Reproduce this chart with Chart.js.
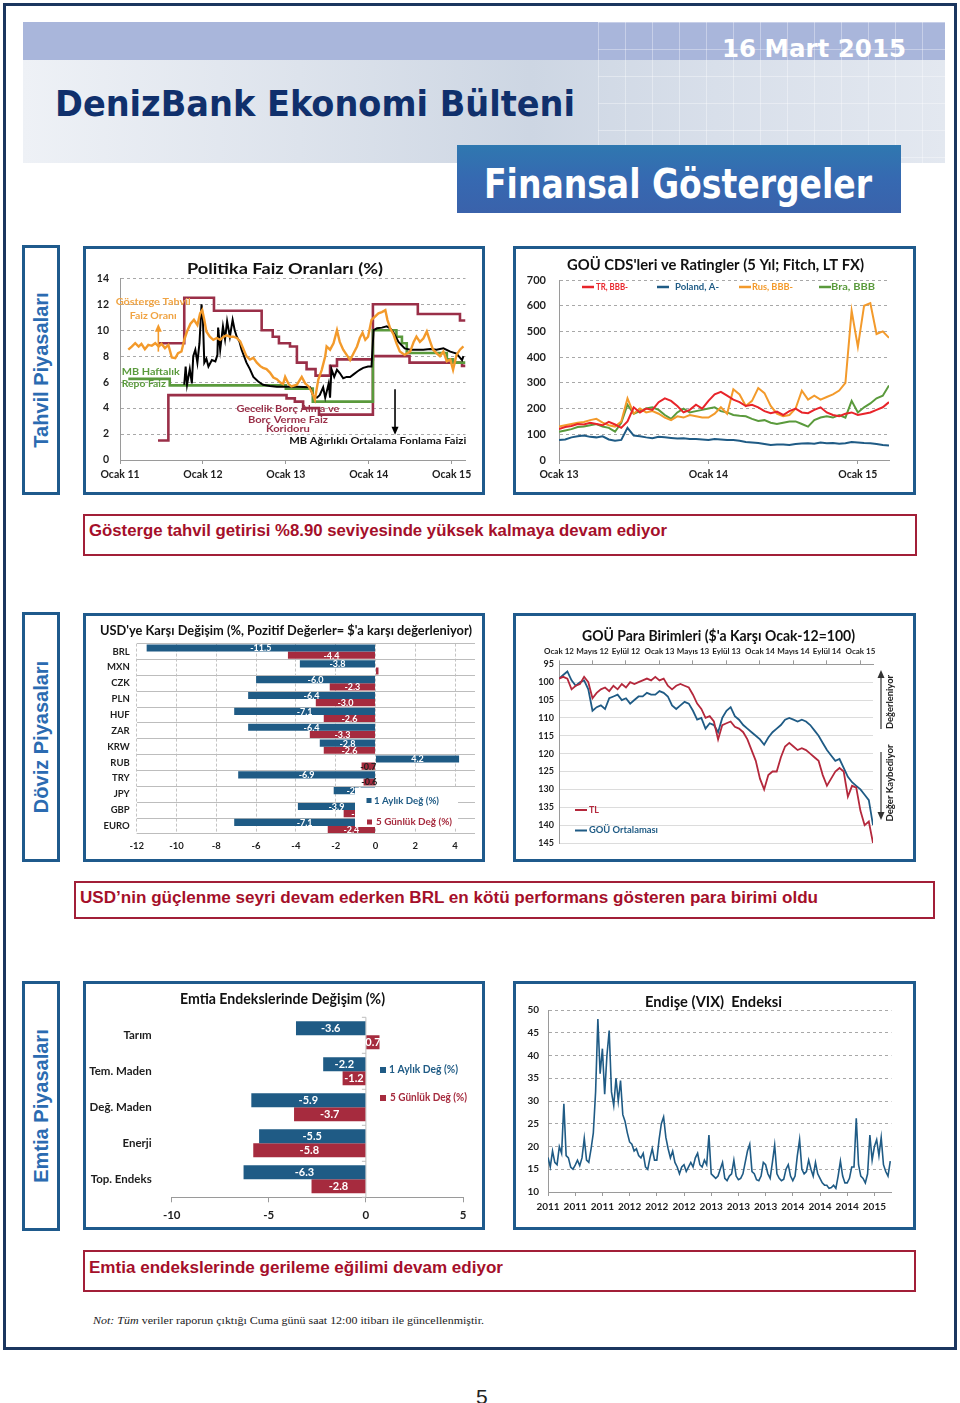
<!DOCTYPE html>
<html lang="tr">
<head>
<meta charset="utf-8">
<title>DenizBank Ekonomi Bülteni – Finansal Göstergeler</title>
<script src="https://cdn.jsdelivr.net/npm/chart.js@4.4.1/dist/chart.umd.min.js"></script>
<style>
  html, body { margin: 0; padding: 0; background: #fff; }
  body { position: relative; width: 960px; height: 1403px; overflow: hidden; font-family: "Liberation Sans", Arial, sans-serif; }
  .abs { position: absolute; }
  .frame { left: 3px; top: 3px; width: 948px; height: 1341px; border: 3px solid #1b365f; }
  .banner { left: 23px; top: 22px; width: 922px; height: 141px; overflow: hidden;
    background: linear-gradient(to bottom, #a9b6db 0, #a9b6db 38px, rgba(0,0,0,0) 38px),
                linear-gradient(to right, #eef1f6 0%, #dde3ec 30%, #cdd6e3 55%, #d8dfea 75%, #e3e8f0 100%); }
  .banner .grid { position: absolute; left: 575px; top: 0; width: 347px; height: 141px;
    background-image: linear-gradient(to right, rgba(255,255,255,.35) 1px, transparent 1px),
                      linear-gradient(to bottom, rgba(255,255,255,.35) 1px, transparent 1px);
    background-size: 27px 27px; }
  .fit { position: absolute; white-space: nowrap; transform-origin: 0 0; line-height: 1; }
  .date { left: 722px; top: 34px; font: bold 25px "DejaVu Sans", sans-serif; color: #fff; }
  .brand { left: 55px; top: 83px; font: bold 36px "DejaVu Sans", sans-serif; color: #10306c; }
  .ribbon { left: 457px; top: 145px; width: 444px; height: 68px;
    background: linear-gradient(to bottom, #2f78b0 0%, #3669b1 50%, #3a62ab 100%); }
  .ribbon-text { left: 484px; top: 161px; font: bold 40px "DejaVu Sans", sans-serif; color: #fff; }
  .side { position: absolute; left: 22px; width: 32px; height: 244px; border: 3px solid #1f5a8c; }
  .side span { position: absolute; left: 50%; top: 50%; transform: translate(-50%, -50%) rotate(-90deg);
    white-space: nowrap; font: bold 20px "Liberation Sans", Arial, sans-serif; color: #2b6bb1; }
  .box { position: absolute; border: 3px solid #1f5a8c; background: #fff; }
  .box canvas { display: block; }
  .cap { position: absolute; border: 2px solid #a21f38; box-sizing: border-box; }
  .cap-text { font: bold 16px "Liberation Sans", Arial, sans-serif; color: #a50f2a; }
  .foot { left: 93px; top: 1314px; font: 11px "Liberation Serif", "Times New Roman", serif; color: #222; }
  .page { left: 476px; top: 1385px; font: 21px "Liberation Sans", Arial, sans-serif; color: #222; }
</style>
</head>
<body>
<div class="abs frame"></div>
<div class="abs banner"><div class="grid"></div></div>
<div class="fit date" data-w="184">16 Mart 2015</div>
<div class="fit brand" data-w="520">DenizBank Ekonomi Bülteni</div>
<div class="abs ribbon"></div>
<div class="fit ribbon-text" data-w="388">Finansal Göstergeler</div>

<div class="side" style="top:245px"><span>Tahvil Piyasaları</span></div>
<div class="box" style="left:83px;top:246px"><canvas id="policyChart" width="396" height="243"></canvas></div>
<div class="box" style="left:513px;top:246px"><canvas id="cdsChart" width="397" height="243"></canvas></div>
<div class="cap" style="left:83px;top:514px;width:834px;height:42px"></div>
<div class="fit cap-text" style="left:89px;top:522px" data-w="578">Gösterge tahvil getirisi %8.90 seviyesinde yüksek kalmaya devam ediyor</div>

<div class="side" style="top:612px"><span>Döviz Piyasaları</span></div>
<div class="box" style="left:83px;top:613px"><canvas id="fxChart" width="396" height="243"></canvas></div>
<div class="box" style="left:513px;top:613px"><canvas id="emChart" width="397" height="243"></canvas></div>
<div class="cap" style="left:74px;top:881px;width:861px;height:38px"></div>
<div class="fit cap-text" style="left:80px;top:889px" data-w="738">USD’nin güçlenme seyri devam ederken BRL en kötü performans gösteren para birimi oldu</div>

<div class="side" style="top:981px"><span>Emtia Piyasaları</span></div>
<div class="box" style="left:83px;top:981px"><canvas id="commChart" width="396" height="243"></canvas></div>
<div class="box" style="left:513px;top:981px"><canvas id="vixChart" width="397" height="243"></canvas></div>
<div class="cap" style="left:83px;top:1250px;width:833px;height:42px"></div>
<div class="fit cap-text" style="left:89px;top:1259px" data-w="414">Emtia endekslerinde gerileme eğilimi devam ediyor</div>

<div class="fit foot" data-w="391"><i>Not: Tüm</i> veriler raporun çıktığı Cuma günü saat 12:00 itibarı ile güncellenmiştir.</div>
<div class="fit page">5</div>

<script>
// ---------- Politika faiz oranları (ay: 0 = Ocak 2011) ----------
const rateTicks = ['Ocak 11', 'Ocak 12', 'Ocak 13', 'Ocak 14', 'Ocak 15'];
const corridorUpper = [[5.5, 9], [9.3, 12.5], [13.6, 11.5], [20.5, 10], [22.1, 9.5], [23.0, 9], [24.6, 8.75],
  [25.6, 7.5], [27.0, 7], [28.3, 6.5], [30.4, 7.25], [31.4, 7.75], [36.6, 12], [43.1, 11.25], [49.2, 10.75], [50, 10.75]];
const corridorLower = [[5.5, 1.5], [7.0, 5], [24.1, 4.75], [25.3, 4.5], [26.5, 4], [28.8, 3.5], [36.6, 8],
  [41.9, 7.5], [49.5, 7.25], [50, 7.25]];
const repoRate = [[1.2, 6.25], [7.2, 5.75], [24.0, 5.5], [27.9, 4.5], [36.6, 10], [40.0, 9.5], [40.8, 9.0],
  [41.5, 8.25], [47.3, 7.75], [48.2, 7.5], [50, 7.5]];
const fundingRate = [[9.3, 5.8], [9.5, 7.2], [9.7, 5.8], [10.1, 7.0], [10.4, 5.9], [10.6, 8.0], [10.9, 8.5],
  [11.2, 7.5], [11.5, 9.0], [11.8, 12.0], [12.0, 10.8], [12.2, 7.5], [12.5, 7.8], [12.8, 7.2], [13.3, 7.7],
  [13.8, 7.6], [14.1, 8.1], [14.2, 10.2], [14.5, 8.5], [14.9, 10.3], [15.2, 9.3], [15.5, 10.7], [15.9, 9.5],
  [16.3, 10.8], [16.6, 10.0], [16.9, 9.5], [17.3, 9.1], [17.6, 8.5], [18.3, 7.5], [18.8, 7.0], [19.3, 6.4],
  [20.0, 6.05], [20.7, 5.8], [21.7, 5.7], [22.7, 5.65], [24.1, 5.65], [24.6, 5.67], [27.5, 5.6], [28.0, 4.9],
  [28.5, 4.8], [28.9, 5.0], [29.4, 5.6], [29.7, 4.8], [30.2, 5.9], [30.4, 4.8], [30.6, 7.0], [31.0, 6.4],
  [31.4, 6.95], [31.8, 6.7], [32.3, 6.3], [32.8, 6.4], [33.3, 6.4], [33.8, 6.6], [34.3, 6.8], [34.7, 6.95],
  [35.2, 7.1], [35.9, 7.2], [36.4, 7.2], [36.7, 10.0], [37.2, 10.15], [37.9, 10.2], [38.6, 10.3], [39.1, 10.15],
  [39.6, 9.8], [40.3, 9.1], [41.2, 8.6], [42.0, 8.5], [42.9, 8.5], [43.9, 8.5], [44.9, 8.55], [45.8, 8.5],
  [46.8, 8.6], [47.8, 8.35], [48.7, 8.2], [49.5, 7.7], [49.7, 8.0]];
const bondYield = [[1.2, 8.5], [1.7, 8.74], [2.2, 9.0], [2.7, 8.74], [3.1, 8.95], [3.6, 8.54], [4.1, 8.87],
  [4.6, 8.8], [5.1, 9.0], [5.6, 8.74], [6.0, 8.95], [6.5, 8.62], [7.0, 8.87], [7.5, 7.9], [8.0, 7.85], [8.4, 8.23],
  [8.9, 8.36], [9.3, 9.26], [9.7, 9.9], [10.2, 10.5], [10.7, 10.8], [11.2, 10.4], [11.6, 11.3], [11.9, 11.55],
  [12.2, 10.8], [12.5, 9.9], [13.0, 9.5], [13.5, 9.26], [14.0, 9.4], [14.5, 9.26], [15.0, 9.5], [15.4, 9.6],
  [15.9, 9.5], [16.4, 9.5], [16.9, 9.4], [17.4, 9.13], [17.9, 8.5], [18.3, 8.0], [18.8, 7.74], [19.3, 7.87],
  [19.8, 7.5], [20.3, 7.23], [20.7, 7.1], [21.2, 7.0], [21.7, 6.74], [22.2, 6.36], [22.7, 6.23], [23.2, 5.97],
  [23.6, 5.85], [23.9, 6.4], [24.4, 5.85], [24.8, 5.67], [25.6, 5.8], [26.3, 6.4], [26.8, 5.9], [27.3, 5.67],
  [27.7, 5.3], [28.2, 4.65], [28.7, 6.2], [29.2, 6.95], [29.7, 8.0], [29.9, 8.75], [30.4, 8.5], [30.9, 9.0],
  [31.4, 10.0], [31.8, 9.1], [32.3, 8.5], [32.8, 8.1], [33.3, 7.7], [33.8, 8.23], [34.3, 8.75], [34.7, 9.4],
  [35.1, 9.8], [35.5, 9.26], [35.9, 9.5], [36.4, 10.8], [36.9, 11.05], [37.4, 11.3], [37.9, 11.4], [38.4, 11.55],
  [38.7, 10.8], [39.1, 10.15], [39.6, 9.65], [40.0, 9.0], [40.5, 8.36], [41.2, 8.1], [42.0, 8.36], [42.5, 9.1],
  [42.9, 9.5], [43.4, 9.1], [43.9, 9.36], [44.4, 9.9], [44.9, 9.1], [45.3, 8.5], [45.8, 8.23], [46.3, 8.0],
  [46.8, 8.36], [47.3, 7.6], [47.8, 7.74], [48.2, 6.95], [48.7, 8.1], [49.2, 8.5], [49.7, 8.75]];

// ---------- CDS (yarım ay aralıkla, 0 = Ocak 2013) ----------
const cdsTicks = ['Ocak 13', 'Ocak 14', 'Ocak 15'];
const cdsNames = ['TR, BBB-', 'Poland, A-', 'Rus, BBB-', 'Bra, BBB'];
const cdsTR = [120, 128, 132, 140, 138, 145, 140, 135, 148, 138, 125, 150, 205, 185, 200, 195, 225, 240, 230, 210,
  185, 195, 215, 200, 230, 255, 265, 250, 235, 225, 210, 215, 205, 190, 182, 188, 175, 190, 200, 185,
  182, 195, 205, 185, 175, 170, 180, 185, 175, 180, 185, 195, 205, 225];
const cdsPoland = [78, 80, 88, 92, 95, 90, 88, 92, 80, 75, 78, 125, 95, 92, 88, 85, 90, 88, 86, 84,
  85, 82, 82, 80, 78, 82, 80, 78, 78, 75, 70, 68, 66, 62, 58, 60, 60, 58, 62, 64,
  65, 63, 68, 65, 66, 63, 65, 70, 68, 66, 65, 62, 58, 56];
const cdsRussia = [130, 135, 140, 145, 148, 155, 160, 145, 135, 130, 150, 240, 180, 200, 185, 190, 180, 165, 155, 170,
  165, 175, 170, 165, 165, 180, 205, 180, 275, 255, 210, 230, 280, 260, 210, 180, 170, 175, 200, 270,
  235, 250, 235, 245, 255, 270, 300, 580, 440, 600, 610, 490, 500, 475];
const cdsBrazil = [110, 115, 120, 128, 130, 135, 140, 130, 125, 110, 145, 215, 180, 190, 200, 205, 195, 175, 160, 185,
  200, 185, 190, 195, 200, 205, 190, 185, 175, 172, 170, 160, 152, 155, 145, 140, 145, 150, 150, 140,
  130, 155, 165, 170, 165, 175, 165, 230, 185, 205, 220, 240, 250, 290];

// ---------- USD'ye karşı değişim ----------
const fxCurrencies = ['BRL', 'MXN', 'CZK', 'PLN', 'HUF', 'ZAR', 'KRW', 'RUB', 'TRY', 'JPY', 'GBP', 'EURO'];
const fxMonthly = [-11.5, -3.8, -6.0, -6.4, -7.1, -6.4, -2.8, 4.2, -6.9, -2.1, -3.9, -7.1];
const fxWeekly = [-4.4, 0.15, -2.3, -3.0, -2.6, -3.3, -2.6, -0.7, -0.6, -0.5, -1.6, -2.4];
const fxTicks = [-12, -10, -8, -6, -4, -2, 0, 2, 4];
const seriesNames = ['1 Aylık Değ (%)', '5 Günlük Değ (%)'];

// ---------- GOÜ para birimleri (yarım ay aralıkla, 0 = Ocak 2012) ----------
const emTicks = ['Ocak 12', 'Mayıs 12', 'Eylül 12', 'Ocak 13', 'Mayıs 13', 'Eylül 13', 'Ocak 14', 'Mayıs 14', 'Eylül 14', 'Ocak 15'];
const tlIndex = [99, 98.5, 99, 102, 101, 100.5, 98.5, 100, 104.5, 103, 102, 101.5, 102.5, 101, 102, 100.5,
  101.5, 100, 100.5, 100, 99.5, 99, 99.5, 98.5, 99.5, 99, 101, 102, 101, 100.5, 101, 101.5,
  103.5, 106, 107.5, 110, 109.5, 111, 116, 112, 111.5, 111, 112.5, 113, 114, 116, 119, 122,
  127, 130, 126, 125, 125, 121, 118, 117, 118, 119, 118.5, 119, 120, 121, 122, 126,
  129, 127, 125, 124, 125, 132, 129, 129.5, 136, 140, 139, 145];
const emAverage = [99, 98, 97, 99.5, 101, 100, 99.5, 102, 108, 107, 106.5, 107.5, 104.5, 104, 103.5, 105,
  104.5, 106, 105, 104, 104, 103, 103.5, 103.5, 102.5, 103, 104, 106.5, 107.5, 106.5, 105.5, 106,
  108, 110.5, 110, 113, 111.5, 112, 114, 110, 108, 107, 109.5, 110.5, 112, 113, 114, 115,
  116, 117.5, 115.5, 114, 113, 112, 110.5, 110, 110.5, 111, 110.5, 111, 112, 113.5, 115, 117,
  119, 120.5, 122, 121.5, 124, 126.5, 128, 129, 130, 131.5, 133, 140];

// ---------- Emtia endeksleri ----------
const commodities = ['Tarım', 'Tem. Maden', 'Değ. Maden', 'Enerji', 'Top. Endeks'];
const commMonthly = [-3.6, -2.2, -5.9, -5.5, -6.3];
const commWeekly = [0.7, -1.2, -3.7, -5.8, -2.8];
const commTicks = [-10, -5, 0, 5];

// ---------- VIX (ayda üç okuma, 0 = Ocak 2011) ----------
const vixTicks = ['2011', '2011', '2011', '2012', '2012', '2012', '2013', '2013', '2013', '2014', '2014', '2014', '2015'];
const vixValues = [
  17.6, 15.5, 19.0, 16.5, 16.0, 20.0, 18.5, 29.4, 18.0, 17.5, 15.5, 15.0,
  15.9, 17.0, 15.8, 17.5, 21.8, 17.0, 16.5, 19.5, 23.0, 32.0, 48.0, 36.0,
  41.5, 31.5, 40.0, 45.5, 32.0, 29.0, 35.0, 30.0, 34.5, 27.0, 25.5, 23.0,
  21.0, 20.5, 19.0, 19.5, 18.0, 17.5, 18.5, 15.5, 15.0, 17.5, 19.5, 17.0,
  17.0, 21.5, 25.0, 26.5, 22.0, 19.5, 17.5, 19.0, 16.5, 15.5, 14.0, 15.5,
  16.0, 14.5, 15.5, 16.5, 15.5, 17.5, 18.5, 16.0, 15.5, 17.0, 16.0, 22.5,
  14.0, 13.5, 13.0, 13.5, 15.0, 16.5, 13.0, 12.5, 13.5, 14.0, 17.0, 13.5,
  12.7, 13.0, 14.0, 16.5, 19.0, 20.5, 14.5, 14.0, 12.7, 12.5, 13.5, 16.5,
  16.0, 14.0, 13.0, 16.5, 20.3, 14.0, 13.0, 12.5, 12.8, 15.0, 16.0, 13.5,
  12.5, 13.5, 18.0, 21.5, 15.0, 14.0, 14.5, 17.0, 15.0, 13.5, 16.5, 14.0,
  13.0, 12.0, 11.5, 11.5, 10.8, 11.0, 11.5, 10.8, 13.5, 16.8, 13.5, 12.0,
  12.0, 13.0, 15.5, 15.5, 26.2, 16.0, 13.5, 13.0, 12.0, 14.0, 22.5, 17.0,
  20.0, 21.5, 18.0, 22.0, 16.0, 14.5, 13.5, 16.8];

// ---------- ortak ayarlar ----------
Chart.defaults.font.family = 'Lato, "Open Sans", sans-serif';
Chart.defaults.font.weight = 'bold';
Chart.defaults.color = '#1e1e1e';
Chart.defaults.animation = false;
Chart.defaults.plugins.legend.display = false;
Chart.defaults.plugins.tooltip.enabled = false;
Chart.defaults.elements.point.radius = 0;
Chart.defaults.elements.line.tension = 0;

const BLUE = '#1f5b85';
const RED = '#a62b3e';

const monthPairs = a => a.map(p => ({ x: p[0], y: p[1] }));
const halfMonths = a => a.map((v, i) => ({ x: i / 2, y: v }));
const thirdMonths = a => a.map((v, i) => ({ x: i / 3, y: v }));

// text squeezed/stretched to a measured width, height kept by font size
function fitText(ctx, text, x, y, width, size, color, align) {
  ctx.save();
  ctx.font = 'bold ' + size + 'px Lato';
  const k = width / ctx.measureText(text).width;
  ctx.translate(x, y);
  ctx.scale(k, 1);
  ctx.fillStyle = color;
  ctx.textAlign = align || 'center';
  ctx.textBaseline = 'middle';
  ctx.fillText(text, 0, 0);
  ctx.restore();
}

function vArrow(ctx, x, yFrom, yTo, color, w) {
  const dir = yTo < yFrom ? -1 : 1;
  ctx.save();
  ctx.strokeStyle = color; ctx.fillStyle = color; ctx.lineWidth = w;
  ctx.beginPath(); ctx.moveTo(x, yFrom); ctx.lineTo(x, yTo - dir * 5); ctx.stroke();
  ctx.beginPath(); ctx.moveTo(x, yTo); ctx.lineTo(x - 3.5, yTo - dir * 8); ctx.lineTo(x + 3.5, yTo - dir * 8);
  ctx.closePath(); ctx.fill();
  ctx.restore();
}

function titlePlugin(text, cx, cy, width, size) {
  return { id: 'fixedTitle', afterDraw(chart) { fitText(chart.ctx, text, cx, cy, width, size, '#111'); } };
}

function yearAxis(labels, step, max, height, pos) {
  return {
    type: 'linear', min: 0, max: max, position: pos || 'bottom',
    afterBuildTicks: s => { s.ticks = labels.map((t, i) => ({ value: i * step })); },
    afterFit: s => { s.height = height; },
    ticks: { autoSkip: false, maxRotation: 0, padding: 4, font: { size: 10.5 }, callback: v => labels[Math.round(v / step)] },
    grid: { drawOnChartArea: false, tickLength: 4, color: '#9a9a9a' },
    border: { color: '#9a9a9a' }
  };
}

// ---------- 1: Politika Faiz Oranları ----------
const rateNotes = {
  id: 'rateNotes',
  afterDatasetsDraw(chart) {
    const { ctx, scales: { x, y } } = chart;
    const put = (t, m, v, w, c, a) => fitText(ctx, t, x.getPixelForValue(m), y.getPixelForValue(v), w, 9.5, c, a);
    put('Gösterge Tahvil', 4.8, 12.15, 75, '#f0a444');
    put('Faiz Oranı', 4.8, 11.1, 47, '#f0a444');
    put('MB Haftalık', 0.25, 6.8, 58, '#5a9a3c', 'left');
    put('Repo Faiz', 0.25, 5.85, 44, '#5a9a3c', 'left');
    put('Gecelik Borç Alma ve', 24.3, 3.92, 103, '#9a2f48');
    put('Borç Verme Faiz', 24.3, 3.08, 80, '#9a2f48');
    put('Koridoru', 24.3, 2.38, 44, '#9a2f48');
    put('MB Ağırlıklı Ortalama Fonlama Faizi', 37.3, 1.46, 177, '#111');
    vArrow(ctx, x.getPixelForValue(5.55), y.getPixelForValue(8.35), y.getPixelForValue(10.5), '#f39a2b', 1.6);
    vArrow(ctx, x.getPixelForValue(39.8), y.getPixelForValue(5.45), y.getPixelForValue(1.95), '#000', 1.6);
  }
};

new Chart(document.getElementById('policyChart'), {
  type: 'line',
  data: {
    datasets: [
      { data: monthPairs(bondYield), borderColor: '#f39a2b', borderWidth: 2.4 },
      { data: monthPairs(fundingRate), borderColor: '#000', borderWidth: 2 },
      { data: monthPairs(repoRate), borderColor: '#5a9a3c', borderWidth: 2.6, stepped: true },
      { data: monthPairs(corridorUpper), borderColor: '#9a2f48', borderWidth: 2.6, stepped: true },
      { data: monthPairs(corridorLower), borderColor: '#9a2f48', borderWidth: 2.6, stepped: true }
    ]
  },
  options: {
    responsive: false,
    layout: { padding: { top: 29.3, right: 16.5, bottom: 0, left: 0 } },
    scales: {
      x: yearAxis(rateTicks, 12, 50, 32),
      y: {
        min: 0, max: 14,
        afterFit: s => { s.width = 34; },
        ticks: { stepSize: 2, padding: 11, font: { size: 10.5 } },
        grid: { color: '#a8a8a8', drawTicks: false },
        border: { color: '#9a9a9a', dash: [3, 3] }
      }
    }
  },
  plugins: [titlePlugin('Politika Faiz Oranları (%)', 199, 20, 196, 15.5), rateNotes]
});

// ---------- 2: GOÜ CDS ----------
const cdsColors = ['#e8242a', BLUE, '#f39a2b', '#5a9a3c'];
const cdsLegend = {
  id: 'cdsLegend',
  afterDraw(chart) {
    const ctx = chart.ctx;
    const lines = [66, 141, 223, 303];
    const texts = [[80, 32], [159, 44], [236, 41], [315, 44]];
    cdsNames.forEach((name, i) => {
      ctx.save();
      ctx.strokeStyle = cdsColors[i]; ctx.lineWidth = 2.5;
      ctx.beginPath(); ctx.moveTo(lines[i], 38); ctx.lineTo(lines[i] + 12, 38); ctx.stroke();
      ctx.restore();
      fitText(ctx, name, texts[i][0], 38, texts[i][1], 8.5, cdsColors[i], 'left');
    });
  }
};

new Chart(document.getElementById('cdsChart'), {
  type: 'line',
  data: {
    datasets: [
      { data: halfMonths(cdsTR), borderColor: '#e8242a', borderWidth: 2 },
      { data: halfMonths(cdsRussia), borderColor: '#f39a2b', borderWidth: 2 },
      { data: halfMonths(cdsBrazil), borderColor: '#5a9a3c', borderWidth: 2 },
      { data: halfMonths(cdsPoland), borderColor: BLUE, borderWidth: 2 }
    ]
  },
  options: {
    responsive: false,
    layout: { padding: { top: 31, right: 24, bottom: 0, left: 0 } },
    scales: {
      x: yearAxis(cdsTicks, 12, 26.5, 32),
      y: {
        min: 0, max: 700,
        afterFit: s => { s.width = 43; },
        ticks: { stepSize: 100, padding: 13, font: { size: 11 } },
        grid: { color: '#a8a8a8', drawTicks: false },
        border: { color: '#9a9a9a', dash: [3, 3] }
      }
    }
  },
  plugins: [titlePlugin("GOÜ CDS'leri ve Ratingler (5 Yıl; Fitch, LT FX)", 199.5, 16, 297, 15), cdsLegend]
});

// ---------- bar etiketleri ----------
function barLabels(size, smallDark) {
  return {
    id: 'barLabels',
    afterDatasetsDraw(chart) {
      const ctx = chart.ctx;
      chart.data.datasets.forEach((ds, di) => {
        chart.getDatasetMeta(di).data.forEach((bar, i) => {
          const v = ds.data[i];
          if (Math.abs(v) < 0.3) return;
          const dark = smallDark && Math.abs(v) < 1;
          ctx.save();
          ctx.font = 'bold ' + size + 'px Lato';
          ctx.fillStyle = dark ? '#222' : '#fff';
          ctx.textAlign = 'center'; ctx.textBaseline = 'middle';
          ctx.fillText(v.toFixed(1), (bar.x + bar.base) / 2, bar.y + 0.5);
          ctx.restore();
        });
      });
    }
  };
}

// ---------- 3: USD'ye karşı değişim ----------
const fxLegend = {
  id: 'fxLegend',
  afterDraw(chart) {
    const ctx = chart.ctx;
    ctx.fillStyle = '#fff';
    ctx.fillRect(269, 171.5, 103, 39.5);
    ctx.fillStyle = BLUE; ctx.fillRect(280.5, 182, 5, 5);
    fitText(ctx, seriesNames[0], 288, 185, 65, 9, BLUE, 'left');
    ctx.fillStyle = RED; ctx.fillRect(281, 203.5, 5, 5);
    fitText(ctx, seriesNames[1], 290, 206, 76, 9, RED, 'left');
  }
};

new Chart(document.getElementById('fxChart'), {
  type: 'bar',
  data: {
    labels: fxCurrencies,
    datasets: [
      { data: fxMonthly, backgroundColor: BLUE, categoryPercentage: 0.9, barPercentage: 1 },
      { data: fxWeekly, backgroundColor: RED, categoryPercentage: 0.9, barPercentage: 1 }
    ]
  },
  options: {
    indexAxis: 'y',
    responsive: false,
    layout: { padding: { top: 27.6, right: 7, bottom: 0, left: 0 } },
    scales: {
      x: {
        min: -12, max: 5,
        afterBuildTicks: s => { s.ticks = fxTicks.map(v => ({ value: v })); },
        afterFit: s => { s.height = 25.1; },
        ticks: { autoSkip: false, padding: 6, font: { size: 9.5 } },
        grid: { color: '#c4c4c4', drawTicks: false },
        border: { display: false, dash: [3, 2] }
      },
      y: {
        afterFit: s => { s.width = 50.7; },
        ticks: { padding: 7, font: { size: 9.5 } },
        grid: { color: '#bdbdbd', drawTicks: false },
        border: { display: false }
      }
    }
  },
  plugins: [titlePlugin("USD'ye Karşı Değişim (%, Pozitif Değerler= $'a karşı değerleniyor)", 200, 14.5, 372, 13.5), barLabels(9, true), fxLegend]
});

// ---------- 4: GOÜ para birimleri ----------
const emNotes = {
  id: 'emNotes',
  afterDraw(chart) {
    const ctx = chart.ctx;
    ctx.save();
    ctx.lineWidth = 2;
    ctx.strokeStyle = '#b4283c'; ctx.beginPath(); ctx.moveTo(59, 194); ctx.lineTo(71, 194); ctx.stroke();
    ctx.strokeStyle = BLUE; ctx.beginPath(); ctx.moveTo(59, 214.5); ctx.lineTo(71, 214.5); ctx.stroke();
    ctx.restore();
    fitText(ctx, 'TL', 73, 194, 10, 9, '#b4283c', 'left');
    fitText(ctx, 'GOÜ Ortalaması', 73, 214.5, 69, 9, BLUE, 'left');
    vArrow(ctx, 365, 113, 54, '#333', 1.2);
    vArrow(ctx, 365, 136, 204, '#333', 1.2);
    ctx.save(); ctx.translate(374, 86); ctx.rotate(-Math.PI / 2);
    fitText(ctx, 'Değerleniyor', 0, 0, 54, 9, '#222');
    ctx.restore();
    ctx.save(); ctx.translate(374, 167); ctx.rotate(-Math.PI / 2);
    fitText(ctx, 'Değer Kaybediyor', 0, 0, 77, 9, '#222');
    ctx.restore();
  }
};

const emX = yearAxis(emTicks, 4, 37.5, 20, 'top');
emX.ticks.font = { size: 8 };
emX.ticks.padding = 4;
new Chart(document.getElementById('emChart'), {
  type: 'line',
  data: {
    datasets: [
      { data: halfMonths(tlIndex), borderColor: '#b4283c', borderWidth: 1.8 },
      { data: halfMonths(emAverage), borderColor: BLUE, borderWidth: 1.8 }
    ]
  },
  options: {
    responsive: false,
    layout: { padding: { top: 28.3, right: 40, bottom: 16, left: 0 } },
    scales: {
      x: emX,
      y: {
        min: 95, max: 145, reverse: true,
        afterFit: s => { s.width = 43; },
        ticks: { stepSize: 5, padding: 5, font: { size: 9 } },
        grid: { color: '#dcdcdc', drawTicks: false },
        border: { color: '#9a9a9a' }
      }
    }
  },
  plugins: [titlePlugin("GOÜ Para Birimleri ($'a Karşı Ocak-12=100)", 202.5, 20, 273, 15.5), emNotes]
});

// ---------- 5: Emtia endeksleri ----------
const commExtras = {
  id: 'commExtras',
  beforeDatasetsDraw(chart) {
    const { ctx, chartArea: a, scales: { x } } = chart;
    const x0 = x.getPixelForValue(0);
    ctx.save();
    ctx.strokeStyle = '#bdbdbd'; ctx.lineWidth = 1;
    ctx.beginPath(); ctx.moveTo(x0, a.top); ctx.lineTo(x0, a.bottom);
    const n = commodities.length;
    for (let i = 0; i <= n; i++) {
      const yy = a.top + (a.bottom - a.top) * i / n;
      ctx.moveTo(x0 - 4, yy); ctx.lineTo(x0, yy);
    }
    ctx.stroke();
    ctx.restore();
  },
  afterDraw(chart) {
    const ctx = chart.ctx;
    ctx.fillStyle = BLUE; ctx.fillRect(294, 83, 6, 6);
    fitText(ctx, seriesNames[0], 303, 86, 69, 10.5, BLUE, 'left');
    ctx.fillStyle = RED; ctx.fillRect(294, 111, 6, 6);
    fitText(ctx, seriesNames[1], 304, 114, 77, 10.5, RED, 'left');
  }
};

new Chart(document.getElementById('commChart'), {
  type: 'bar',
  data: {
    labels: commodities,
    datasets: [
      { data: commMonthly, backgroundColor: BLUE, categoryPercentage: 0.78, barPercentage: 1 },
      { data: commWeekly, backgroundColor: RED, categoryPercentage: 0.78, barPercentage: 1 }
    ]
  },
  options: {
    indexAxis: 'y',
    responsive: false,
    layout: { padding: { top: 33.3, right: 19, bottom: 0, left: 0 } },
    scales: {
      x: {
        min: -10, max: 5,
        afterBuildTicks: s => { s.ticks = commTicks.map(v => ({ value: v })); },
        afterFit: s => { s.height = 29.7; },
        ticks: { autoSkip: false, padding: 6, font: { size: 11.5 } },
        grid: { drawOnChartArea: false, tickLength: 5, color: '#9a9a9a' },
        border: { color: '#9a9a9a' }
      },
      y: {
        afterFit: s => { s.width = 85.7; },
        ticks: { padding: 12, font: { size: 11.5 } },
        grid: { display: false },
        border: { display: false }
      }
    }
  },
  plugins: [titlePlugin('Emtia Endekslerinde Değişim (%)', 196.5, 15.3, 205, 15.5), barLabels(11, false), commExtras]
});

// ---------- 6: VIX ----------
const vixX = yearAxis(vixTicks, 4, 50.5, 35);
vixX.ticks.font = { size: 10 };
vixX.ticks.padding = 5;
new Chart(document.getElementById('vixChart'), {
  type: 'line',
  data: { datasets: [{ data: thirdMonths(vixValues), borderColor: BLUE, borderWidth: 1.6 }] },
  options: {
    responsive: false,
    layout: { padding: { top: 26, right: 21.6, bottom: 0, left: 0 } },
    scales: {
      x: vixX,
      y: {
        min: 10, max: 50,
        afterFit: s => { s.width = 32; },
        ticks: { stepSize: 5, padding: 9, font: { size: 10 } },
        grid: { color: '#a8a8a8', drawTicks: false },
        border: { color: '#9a9a9a', dash: [3, 3] }
      }
    }
  },
  plugins: [titlePlugin('Endişe (VIX)  Endeksi', 197.5, 17.7, 137, 15.5)]
});

// ---------- HTML metinlerini ölçüye oturt ----------
document.querySelectorAll('.fit[data-w]').forEach(el => {
  const w = +el.dataset.w;
  el.style.transform = 'scaleX(' + (w / el.getBoundingClientRect().width) + ')';
});
</script>
</body>
</html>
